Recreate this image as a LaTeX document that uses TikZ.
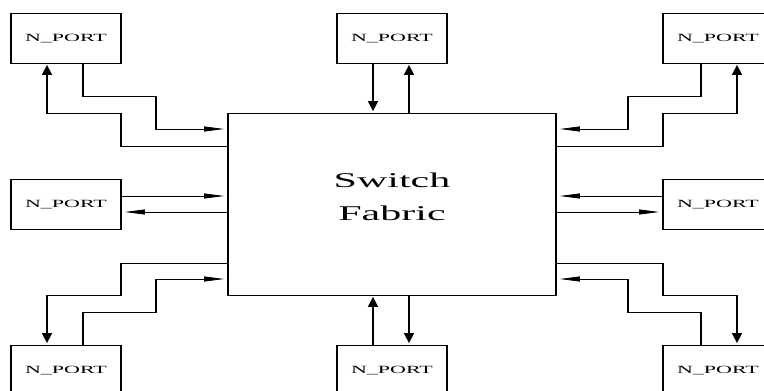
\documentclass[tikz,border=0pt]{standalone}
\usepackage{fontspec}
\setmainfont{Liberation Serif}
\usetikzlibrary{arrows.meta}
\begin{document}
\begin{tikzpicture}[x=1pt,y=-1pt,line width=0.8pt,
  port/.style={draw,minimum width=55pt,minimum height=50pt,inner sep=0pt,text depth=0pt,font=\fontsize{11}{12}\selectfont},
  fabric/.style={draw,minimum width=164pt,minimum height=182pt,inner sep=0pt},
  fabtext/.style={align=center,font=\fontsize{21}{33}\selectfont},
  arr/.style={-{Triangle[length=10pt,width=5pt]},shorten >=1.5pt}]
\fill[white] (0,0) rectangle (764,391);
\useasboundingbox (0,0) rectangle (764,391);
\begin{scope}[transform canvas={xscale=2}]
  \node[fabric] (sf) at (196,204) {};
  \node[fabtext] (sft) at (196,197) {Switch\\Fabric};
  \node[port] (tl) at (33,38) {N\_PORT};
  \node[port] (tm) at (196,38) {N\_PORT};
  \node[port] (tr) at (359,38) {N\_PORT};
  \node[port] (ml) at (33,204) {N\_PORT};
  \node[port] (mr) at (359,204) {N\_PORT};
  \node[port] (bl) at (33,370) {N\_PORT};
  \node[port] (bm) at (196,370) {N\_PORT};
  \node[port] (br) at (359,370) {N\_PORT};
  % top left
  \draw[arr] ([xshift=8.5pt]tl.south) |- (78,96) |- ([yshift=75pt]sf.west);
  \draw[arr] ([yshift=58pt]sf.west) -| (60.5,113) -| ([xshift=-9.5pt]tl.south);
  % middle left
  \draw[arr] ([yshift=8pt]ml.east) -- ([yshift=8pt]sf.west);
  \draw[arr] ([yshift=-8pt]sf.west) -- ([yshift=-8pt]ml.east);
  % bottom left
  \draw[arr] ([yshift=-59pt]sf.west) -| (60.5,295) -| ([xshift=-9.5pt]bl.north);
  \draw[arr] ([xshift=8.5pt]bl.north) |- (78,312) |- ([yshift=-75pt]sf.west);
  % top middle
  \draw[arr] ([xshift=-9.5pt]tm.south) -- ([xshift=-9.5pt]sf.north);
  \draw[arr] ([xshift=8.5pt]sf.north) -- ([xshift=8.5pt]tm.south);
  % bottom middle
  \draw[arr] ([xshift=-9.5pt]bm.north) -- ([xshift=-9.5pt]sf.south);
  \draw[arr] ([xshift=8.5pt]sf.south) -- ([xshift=8.5pt]bm.north);
  % top right
  \draw[arr] ([xshift=-8.5pt]tr.south) |- (314,96) |- ([yshift=75pt]sf.east);
  \draw[arr] ([yshift=58pt]sf.east) -| (331.5,113) -| ([xshift=9.5pt]tr.south);
  % middle right
  \draw[arr] ([yshift=8pt]mr.west) -- ([yshift=8pt]sf.east);
  \draw[arr] ([yshift=-8pt]sf.east) -- ([yshift=-8pt]mr.west);
  % bottom right
  \draw[arr] ([yshift=-59pt]sf.east) -| (331.5,295) -| ([xshift=9.5pt]br.north);
  \draw[arr] ([xshift=-8.5pt]br.north) |- (314,312) |- ([yshift=-75pt]sf.east);
\end{scope}
\end{tikzpicture}
\end{document}
